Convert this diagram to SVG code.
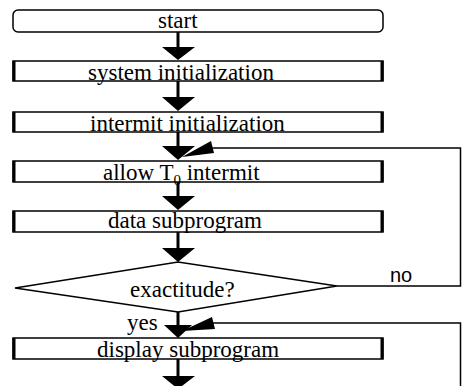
<svg xmlns="http://www.w3.org/2000/svg" width="462" height="386" viewBox="0 0 462 386">
<style>
.box{fill:#fff;stroke:#000;stroke-width:1.5}
.side{stroke:#000;stroke-width:3}
.t{font-family:"Liberation Serif","Times New Roman",serif;font-size:23px;fill:#000}
.s{font-family:"Liberation Sans",Arial,sans-serif;font-size:20px;fill:#000}
.ln{fill:none;stroke:#000;stroke-width:1.5}
.stem{stroke:#000;stroke-width:3}
.hd{fill:#000}
</style>
<rect width="462" height="386" fill="#fff"/>
<g id="connectors">
<line class="stem" x1="178" y1="32" x2="178" y2="48"/>
<polygon class="hd" points="162,47 195,47 178,60"/>
<line class="stem" x1="178" y1="81" x2="178" y2="98"/>
<polygon class="hd" points="162,97 195,97 178,111"/>
<line class="stem" x1="178" y1="132" x2="178" y2="147"/>
<polygon class="hd" points="162,146 195,146 178,160"/>
<line class="stem" x1="178" y1="182" x2="178" y2="197"/>
<polygon class="hd" points="162,196 195,196 178,210"/>
<line class="stem" x1="178" y1="232" x2="178" y2="249"/>
<polygon class="hd" points="162,248 195,248 178,262"/>
<line class="stem" x1="178" y1="312" x2="178" y2="326"/>
<polygon class="hd" points="164,325 192,325 178,338"/>
<line class="stem" x1="178" y1="359" x2="178" y2="377"/>
<polygon class="hd" points="162,376 195,376 178,389"/>
<polyline class="ln" points="337,286 460.5,286 460.5,148 212,148"/>
<polygon class="hd" points="211,141 214,153 182,157"/>
<polyline class="ln" points="460.5,390 460.5,323 213,323"/>
<polygon class="hd" points="212,317 215,329 182,331"/>
<text class="s" x="390" y="282">no</text>
<text class="t" x="127" y="330" font-size="22">yes</text>
</g>
<g id="start">
<rect class="box" x="13" y="10" width="370" height="22" rx="5"/>
<text class="t" x="158" y="28">start</text>
</g>
<g id="sysinit">
<rect class="box" x="13" y="61" width="370" height="20"/>
<line class="side" x1="14" y1="61" x2="14" y2="81"/><line class="side" x1="382" y1="61" x2="382" y2="81"/>
<text class="t" x="88" y="80">system initialization</text>
</g>
<g id="intinit">
<rect class="box" x="13" y="112" width="370" height="20"/>
<line class="side" x1="14" y1="112" x2="14" y2="132"/><line class="side" x1="382" y1="112" x2="382" y2="132"/>
<text class="t" x="90" y="131">intermit initialization</text>
</g>
<g id="allow">
<rect class="box" x="13" y="161" width="370" height="21"/>
<line class="side" x1="14" y1="161" x2="14" y2="182"/><line class="side" x1="382" y1="161" x2="382" y2="182"/>
<text class="t" x="103" y="180">allow T<tspan font-size="15" dy="5">0</tspan><tspan dy="-5"> intermit</tspan></text>
</g>
<g id="data">
<rect class="box" x="13" y="211" width="370" height="21"/>
<line class="side" x1="14" y1="211" x2="14" y2="232"/><line class="side" x1="382" y1="211" x2="382" y2="232"/>
<text class="t" x="108" y="228">data subprogram</text>
</g>
<g id="exactitude">
<polygon class="box" points="15,288 178,262 337,286 178,312"/>
<text class="t" x="130" y="297">exactitude?</text>
</g>
<g id="display">
<rect class="box" x="13" y="338" width="370" height="21"/>
<line class="side" x1="14" y1="338" x2="14" y2="359"/><line class="side" x1="382" y1="338" x2="382" y2="359"/>
<text class="t" x="97" y="357">display subprogram</text>
</g>
</svg>
